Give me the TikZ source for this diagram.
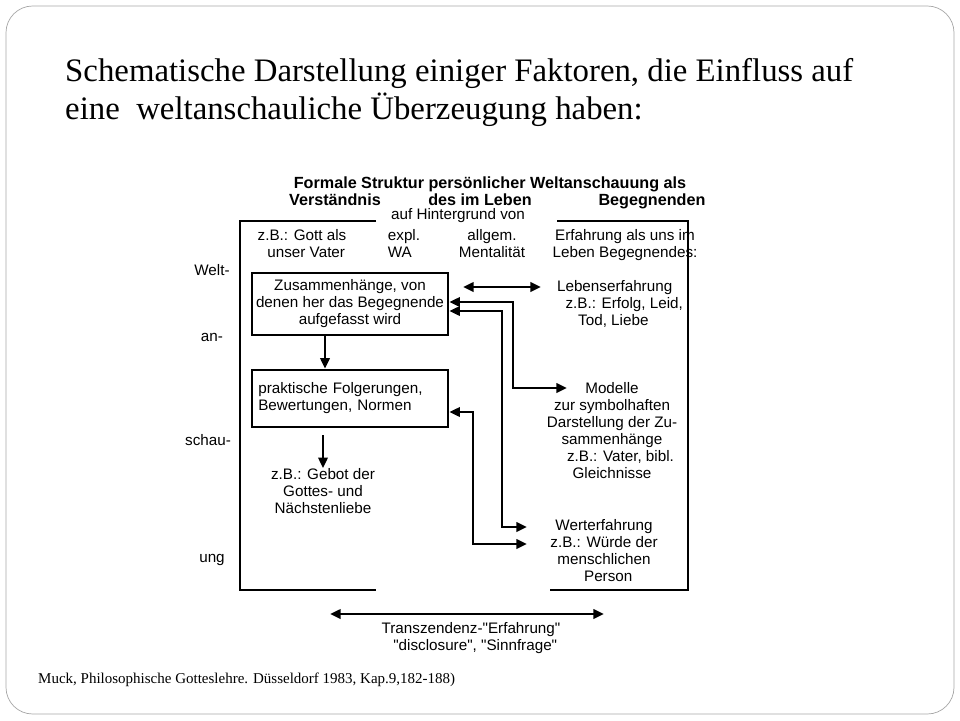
\documentclass[tikz,border=0pt]{standalone}
\usepackage{fontspec}
\setmainfont{Liberation Sans}[Ligatures=TeXOff]
\newfontfamily\titlefont{Liberation Serif}
\usetikzlibrary{arrows.meta,positioning}
\newcommand\qq{\symbol{34}}
\tikzset{
  lbl/.style={align=center,inner sep=0pt,font=\fontsize{13}{14.5}\selectfont},
  hd/.style={anchor=base,inner sep=0pt,font=\bfseries\fontsize{13.8}{14}\selectfont},
  ttl/.style={anchor=base west,inner sep=0pt,font=\titlefont\fontsize{28}{32}\selectfont},
  box/.style={draw,line width=2.2pt,minimum width=58.8mm,inner sep=0pt},
  conn/.style={line width=2.2pt,-{Triangle[length=3.2mm,width=2.8mm]}},
  both/.style={line width=2.2pt,{Triangle[length=3.2mm,width=2.8mm]}-{Triangle[length=3.2mm,width=2.8mm]}},
  frame/.style={line width=2.2pt}
}
\begin{document}
\begin{tikzpicture}[x=0.3mm,y=-0.3mm]
\useasboundingbox (0,0) rectangle (960,720);
\draw[gray!70,rounded corners=8mm,line width=0.6pt] (6,6) rectangle (954,714);
% title
\node[ttl] (title1) at (65,81) {Schematische Darstellung einiger Faktoren, die Einfluss auf};
\node[ttl] (title2) at (65,119) {eine\ \ weltanschauliche Überzeugung haben:};
% heading
\node[hd] (head) at (490,188) {Formale Struktur persönlicher Weltanschauung als};
\node[hd] (h1) at (335,205) {Verständnis};
\node[hd] (h2) at (480,205) {des im Leben};
\node[hd] (h3) at (652,205) {Begegnenden};
% frame
\coordinate (tl) at (240,221);
\coordinate (bl) at (240,590);
\coordinate (tr) at (688,221);
\coordinate (br) at (688,590);
\draw[frame] (376,221) -- (tl) -- (bl) -- (376,590);
\draw[frame] (557,221) -- (tr) -- (br) -- (550,590);
\node[lbl] (hint) at (458,216) {auf Hintergrund von};
\node[lbl,anchor=north] (gott) at (302,229) {z.B.: Gott als\\\ \ unser Vater};
\node[lbl,anchor=north,align=left] (wa) at (404,229) {expl.\\WA};
\node[lbl,anchor=north] (allg) at (492,229) {allgem.\\Mentalität};
\node[lbl,anchor=north] (erf) at (625,229) {Erfahrung als uns im\\Leben Begegnendes:};
% side word
\node[lbl] (w1) at (212,270) {Welt-};
\node[lbl] (w2) at (212,337) {an-};
\node[lbl] (w3) at (208,440) {schau-};
\node[lbl] (w4) at (212,560) {ung};
% boxes
\node[box,minimum height=18.6mm,lbl] (zus) at (350,304) {Zusammenhänge, von\\denen her das Begegnende\\aufgefasst wird};
\node[box,minimum height=17.1mm,lbl,align=left,text width=55mm] (prak) at (350,398.5) {praktische Folgerungen,\\Bewertungen, Normen\\[4mm]};
\node[lbl] (gebot) at (323,491) {z.B.: Gebot der\\Gottes- und\\Nächstenliebe};
\draw[conn] (zus.south -| 325,0) -- (prak.north -| 325,0);
\draw[conn] (323,435) -- (gebot.north -| 323,0);
% right column
\node[lbl,align=left] (leben) at (620,304) {Lebenserfahrung\\\ \ z.B.: Erfolg, Leid,\\\ \ \ \ \ Tod, Liebe};
\node[lbl] (mod) at (612,431) {Modelle\\zur symbolhaften\\Darstellung der Zu-\\sammenhänge\\\ \ \ \ z.B.: Vater, bibl.\\Gleichnisse};
\node[lbl] (wert) at (604,551) {Werterfahrung\\z.B.: Würde der\\menschlichen\\\ \ Person};
% connectors
\draw[both] (463,287) -- (541,287);
\draw[conn] (513,388) -- (513,302) -- (zus.east |- 0,302);
\draw[conn] (513,302) |- (567,388);
\draw[conn] (502,527) -- (502,311) -- (zus.east |- 0,311);
\draw[conn] (502,450) |- (527,527);
\draw[conn] (473,544) |- (prak.east |- 0,412);
\draw[conn] (473,480) |- (527,544);
\node[lbl] (trans) at (471,638) {Transzendenz-\qq Erfahrung\qq\\\ \ \qq disclosure\qq, \qq Sinnfrage\qq};
\draw[both] (330,614) -- (604,614);
% source
\node[anchor=west,inner sep=0pt,font=\titlefont\fontsize{12.8}{14}\selectfont] (src) at (38,680)
  {Muck, Philosophische Gotteslehre. Düsseldorf 1983, Kap.9,182-188)};
\end{tikzpicture}
\end{document}
